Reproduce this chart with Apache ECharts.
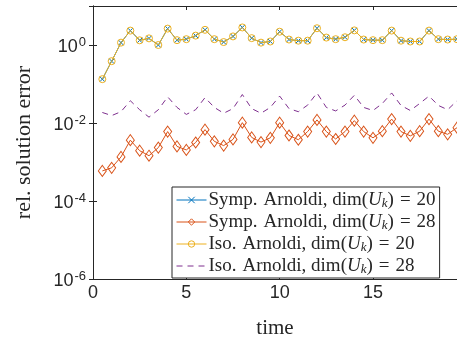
<!DOCTYPE html>
<html>
<head>
<meta charset="utf-8">
<script src="https://cdn.jsdelivr.net/npm/echarts@6/dist/echarts.min.js"></script>
<style>html,body{margin:0;padding:0;background:#fff}#c{width:457px;height:344px}</style>
</head>
<body>
<div id="c"></div>
<script>
const time = [0.5,1,1.5,2,2.5,3,3.5,4,4.5,5,5.5,6,6.5,7,7.5,8,8.5,9,9.5,10,10.5,11,11.5,12,12.5,13,13.5,14,14.5,15,15.5,16,16.5,17,17.5,18,18.5,19,19.5];
const sympArnoldi20 = [0.133,0.385,1.15,2.34,1.32,1.48,1.0,2.63,1.33,1.41,1.74,2.45,1.41,1.19,1.66,2.82,1.50,1.15,1.23,2.19,1.38,1.29,1.29,2.69,1.55,1.41,1.58,2.37,1.38,1.33,1.33,2.34,1.29,1.23,1.23,2.34,1.41,1.38,1.41];
const sympArnoldi28 = [5.9e-4,7.1e-4,1.35e-3,3.63e-3,1.95e-3,1.45e-3,2.34e-3,6.03e-3,2.51e-3,2.04e-3,3.16e-3,6.76e-3,3.39e-3,2.63e-3,3.80e-3,1.02e-2,4.27e-3,3.24e-3,4.17e-3,1.02e-2,4.79e-3,3.72e-3,6.03e-3,1.20e-2,6.03e-3,3.89e-3,6.03e-3,1.15e-2,6.03e-3,4.17e-3,6.17e-3,1.26e-2,6.03e-3,4.68e-3,6.17e-3,1.26e-2,6.17e-3,5.13e-3,7.59e-3];
const isoArnoldi20 = [0.133,0.385,1.15,2.34,1.32,1.48,1.0,2.63,1.33,1.41,1.74,2.45,1.41,1.19,1.66,2.82,1.50,1.15,1.23,2.19,1.38,1.29,1.29,2.69,1.55,1.41,1.58,2.37,1.38,1.33,1.33,2.34,1.29,1.23,1.23,2.34,1.41,1.38,1.41];
const isoArnoldi28 = [0.0186,0.0155,0.0195,0.0372,0.0219,0.0141,0.0219,0.0468,0.0251,0.0166,0.0219,0.0447,0.0251,0.0178,0.0234,0.0537,0.0234,0.0178,0.0251,0.0490,0.0234,0.0195,0.0288,0.0589,0.0251,0.0204,0.0288,0.0513,0.0251,0.0209,0.0316,0.0589,0.0282,0.0209,0.0316,0.0490,0.0282,0.0219,0.0372];
const methodNames = ['Symp.', 'Symp.', 'Iso.', 'Iso.'];
const dims = [20, 28, 20, 28];
const seriesNames = methodNames.map((m,i)=> m + ' Arnoldi, dim(U_k) = ' + dims[i]);
const xTicks = [0,5,10,15];
const yTickExps = [-6,-4,-2,0];

const AX = '#262626';
const sans = 'Liberation Sans';
const serif = 'Liberation Serif';
function pairs(ys){ return time.map((t,i)=>[t, ys[i]]); }
const xMarker = 'path://M0,0L10,10M10,0L0,10';

const chart = echarts.init(document.getElementById('c'), null, {renderer:'canvas'});
const axisCommonX = {
  type:'value', min:0, max:19.5, interval:5,
  axisLine:{show:true, lineStyle:{color:AX, width:1}},
  axisTick:{show:true, inside:true, length:4, lineStyle:{color:AX}},
  splitLine:{show:false}
};
const axisCommonY = {
  type:'log', logBase:10, min:1e-6, max:10, interval:2,
  axisLine:{show:true, lineStyle:{color:AX, width:1}},
  axisTick:{show:true, inside:true, length:4, lineStyle:{color:AX}},
  splitLine:{show:false}, minorTick:{show:false}
};
const option = {
  animation:false,
  backgroundColor:'#fff',
  grid:{left:93, top:6, width:365, height:280, containLabel:false},
  xAxis:[
    Object.assign({}, axisCommonX, {
      position:'bottom',
      name:'time', nameLocation:'middle', nameGap:39,
      nameTextStyle:{fontFamily:serif, fontSize:21, color:AX},
      axisLabel:{margin:5, fontFamily:sans, fontSize:18, color:AX, showMaxLabel:false,
        formatter:v => xTicks.indexOf(v) >= 0 ? String(v) : ''}
    }),
    Object.assign({}, axisCommonX, {position:'top', axisLabel:{show:false}})
  ],
  yAxis:[
    Object.assign({}, axisCommonY, {
      position:'left',
      name:'rel. solution error', nameLocation:'middle', nameGap:58,
      nameTextStyle:{fontFamily:serif, fontSize:22, color:AX},
      axisLabel:{margin:7, showMaxLabel:false, color:AX,
        formatter:v => { const e = Math.round(Math.log10(v)); return yTickExps.indexOf(e)>=0 ? '{b|10}{p|'+e+'}' : ''; },
        rich:{
          b:{fontFamily:sans, fontSize:18, color:AX, lineHeight:22, verticalAlign:'top', padding:[4,0,0,0]},
          p:{fontFamily:sans, fontSize:13, color:AX, lineHeight:14, verticalAlign:'top', padding:[2,0,0,1]}
        }}
    }),
    Object.assign({}, axisCommonY, {position:'right', axisLabel:{show:false}})
  ],
  legend:{
    orient:'vertical', left:172, top:187,
    data:seriesNames.map((n,i)=> i===3 ? {name:n, itemStyle:{opacity:0}} : {name:n}),
    itemWidth:30, itemHeight:8, itemGap:2,
    padding:[3,4,2,4],
    borderColor:AX, borderWidth:1, borderRadius:0, backgroundColor:'#fff',
    lineStyle:{width:1},
    itemStyle:{borderWidth:1},
    formatter: name => {
      const i = seriesNames.indexOf(name);
      return '{a|'+methodNames[i]+'}{g|}{a|Arnoldi, dim(}{i|U}{s|k}{a|)}{e|=}{a|'+dims[i]+'}';
    },
    textStyle:{fontFamily:serif, fontSize:19, lineHeight:18, color:AX, padding:[0,0,0,-3],
      rich:{
        a:{fontFamily:serif, fontSize:19, color:AX, lineHeight:18},
        g:{width:6, lineHeight:18},
        e:{fontFamily:serif, fontSize:19, color:AX, lineHeight:18, padding:[0,6,0,6]},
        i:{fontFamily:serif, fontStyle:'italic', fontSize:19, color:AX, lineHeight:18},
        s:{fontFamily:serif, fontStyle:'italic', fontSize:13, color:AX, lineHeight:11, padding:[7,0,0,0]}
      }}
  },
  series:[
    {name:seriesNames[0], type:'line', data:pairs(sympArnoldi20), symbol:xMarker, symbolSize:5,
      lineStyle:{color:'#0072BD', width:1}, itemStyle:{color:'rgba(0,0,0,0)', borderColor:'#0072BD', borderWidth:1}, z:2},
    {name:seriesNames[1], type:'line', data:pairs(sympArnoldi28), symbol:'diamond', symbolSize:[8,11],
      lineStyle:{color:'#D95319', width:1}, itemStyle:{color:'rgba(255,255,255,0)', borderColor:'#D95319', borderWidth:1}, z:2},
    {name:seriesNames[2], type:'line', data:pairs(isoArnoldi20), symbol:'circle', symbolSize:7,
      lineStyle:{color:'#EDB120', width:1}, itemStyle:{color:'rgba(255,255,255,0)', borderColor:'#EDB120', borderWidth:1}, z:3},
    {name:seriesNames[3], type:'line', data:pairs(isoArnoldi28), symbol:'none',
      lineStyle:{color:'#7E2F8E', width:1, type:[6,5]}, itemStyle:{color:'#7E2F8E'}, z:4}
  ]
};
chart.setOption(option);
</script>
</body>
</html>
